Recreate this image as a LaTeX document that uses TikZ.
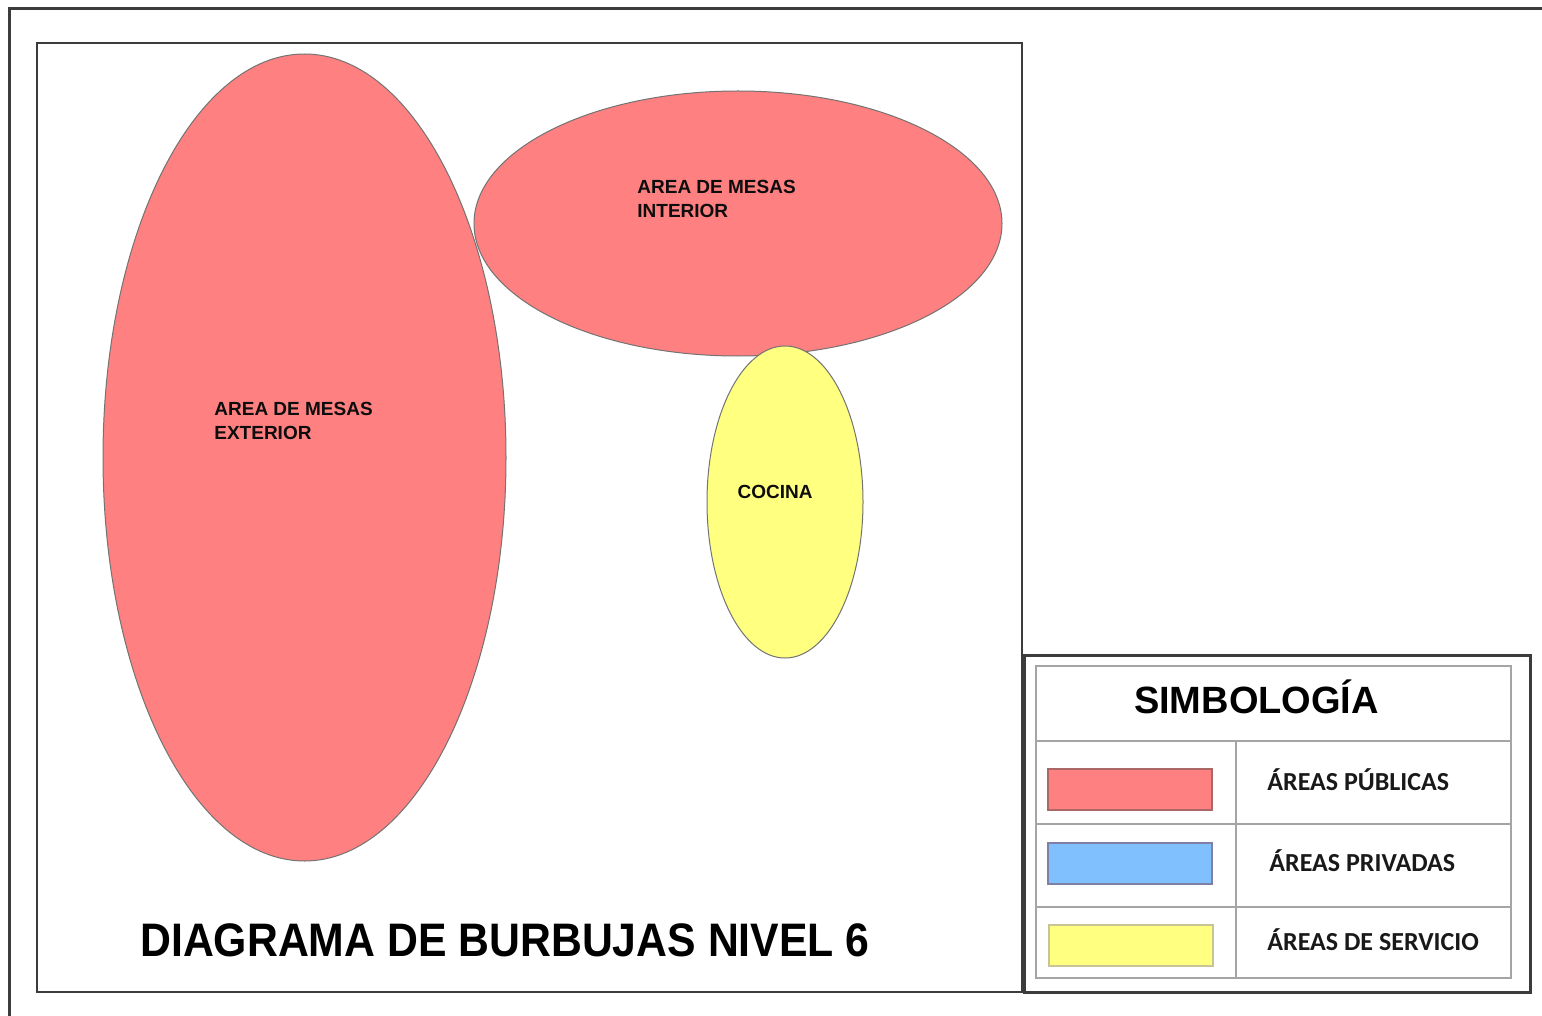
\documentclass[tikz,border=0pt]{standalone}
\usepackage{fontspec}
\setmainfont{Liberation Sans}
\newfontfamily\legendfont{Carlito}
\newfontfamily\titlefont[FakeStretch=0.91]{Liberation Sans}
\usetikzlibrary{shapes, positioning, calc}

\definecolor{pubred}{RGB}{255,128,128}
\definecolor{privblue}{RGB}{128,192,255}
\definecolor{servyellow}{RGB}{255,255,128}
\definecolor{framegray}{RGB}{60,60,60}
\definecolor{tablegray}{RGB}{165,165,165}

\begin{document}
\begin{tikzpicture}[
    x=0.5pt, y=-0.5pt,
    bubble/.style={ellipse, draw=black!55, line width=0.5pt, inner sep=0pt},
    bubblelabel/.style={font=\bfseries\fontsize{9.5}{12}\selectfont, text=black!95, align=left, anchor=west, inner sep=0pt},
    swatch/.style={rectangle, line width=0.8pt, minimum width=82pt, minimum height=20.5pt, inner sep=0pt},
    legendlabel/.style={font=\legendfont\bfseries\fontsize{13}{15}\selectfont, text=black!90, anchor=west, inner sep=0pt}
]

\useasboundingbox (0,0) rectangle (1542,1016);
\fill[white] (0,0) rectangle (1542,1016);

% Frames
\draw[framegray, line width=1.5pt] (1542,9) -- (9,9) -- (9,1016);
\draw[framegray, line width=1.2pt] (37,43) rectangle (1022,992);

% Bubbles
\node [bubble, fill=pubred, minimum width=201.5pt, minimum height=403.5pt] (exterior) at (304.5,457.5) {};
\node [bubble, fill=pubred, minimum width=264pt, minimum height=132.5pt] (interior) at (738,223.5) {};
\node [bubble, fill=servyellow, minimum width=78pt, minimum height=156pt] (cocina) at (785,502) {};

% Labels
\node [bubblelabel] (extlabel) at (214,421) {AREA DE MESAS\\EXTERIOR};
\node [bubblelabel] (intlabel) at (637,199) {AREA DE MESAS\\INTERIOR};
\node [bubblelabel, anchor=center] (coclabel) at (775,492) {COCINA};

\node [font=\titlefont\bfseries\fontsize{23.5}{28}\selectfont, text=black] (title) at (505,940) {DIAGRAMA DE BURBUJAS NIVEL 6};

% Legend
\draw[framegray, line width=1.5pt, fill=white] (1024,655) rectangle (1530,992);
\draw[tablegray, line width=1pt] (1036,666) rectangle (1511,978);
\draw[tablegray, line width=1pt] (1036,741) -- (1511,741);
\draw[tablegray, line width=1pt] (1036,824) -- (1511,824);
\draw[tablegray, line width=1pt] (1036,907) -- (1511,907);
\draw[tablegray, line width=1pt] (1236,741) -- (1236,978);

\node [font=\bfseries\fontsize{19}{22}\selectfont, text=black] (simbologia) at (1256.5,697) {SIMBOLOGÍA};

\node [swatch, fill=pubred, draw=red!45!black!60] (swpub) at (1130,789.5) {};
\node [swatch, fill=privblue, draw=blue!30!black!50] (swpriv) at (1130,863.5) {};
\node [swatch, fill=servyellow, draw=yellow!50!black!50] (swserv) at (1131,945.5) {};

\node [legendlabel] (lbpub) at (1267,780) {ÁREAS PÚBLICAS};
\node [legendlabel] (lbpriv) at (1269,861) {ÁREAS PRIVADAS};
\node [legendlabel] (lbserv) at (1267,940) {ÁREAS DE SERVICIO};

\end{tikzpicture}
\end{document}
